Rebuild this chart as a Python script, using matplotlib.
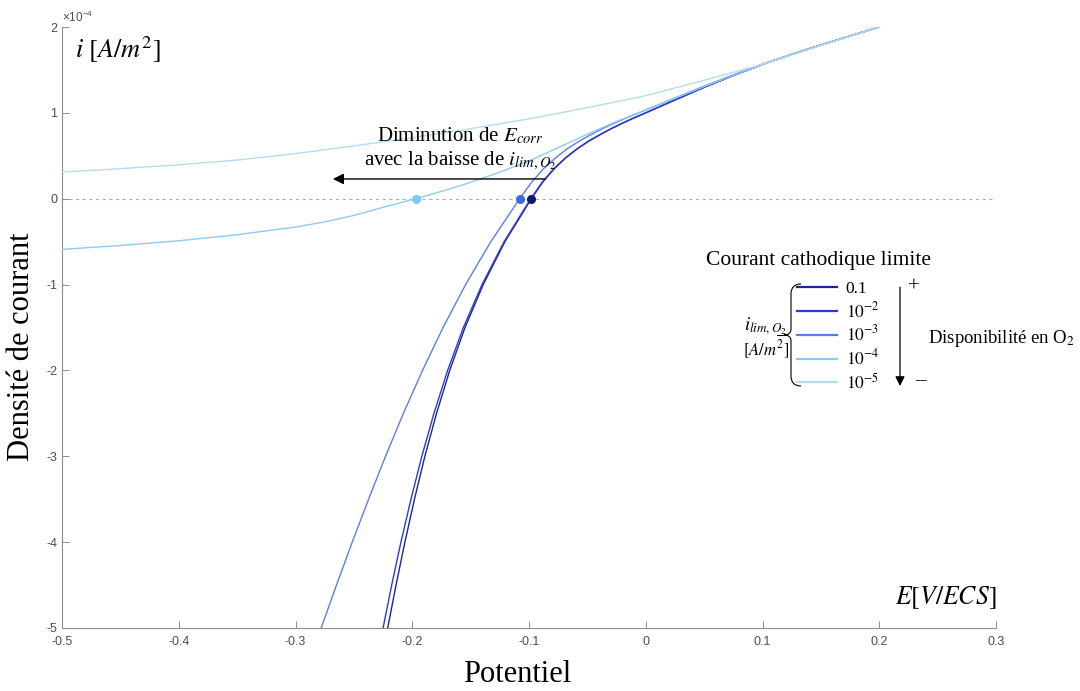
import matplotlib
matplotlib.use("Agg")
import matplotlib.pyplot as plt
from matplotlib.path import Path
from matplotlib.patches import PathPatch, FancyArrowPatch

plt.rcParams['mathtext.fontset'] = 'stix'
plt.rcParams['axes.unicode_minus'] = False

# courbes i(E), i en 1e-4 A/m2, E en V/ECS
e_01 = [-0.221, -0.2139, -0.2063, -0.1981, -0.1892, -0.1792, -0.1679, -0.1548, -0.1392, -0.1206,
        -0.098, -0.0882, -0.0784, -0.0686, -0.0588, -0.049, -0.0392, -0.0294, -0.0196, -0.0098,
        0.0, 0.025, 0.05, 0.075, 0.1, 0.125, 0.15, 0.175, 0.2]
i_01 = [-5.0, -4.5, -4.0, -3.5, -3.0, -2.5, -2.0, -1.5, -1.0, -0.5,
        0.0, 0.194, 0.349, 0.475, 0.58, 0.669, 0.746, 0.817, 0.882, 0.943,
        1.0, 1.15, 1.297, 1.435, 1.565, 1.68, 1.79, 1.895, 2.0]

e_1e2 = [-0.225, -0.2176, -0.2097, -0.2011, -0.1918, -0.1814, -0.1697, -0.1562, -0.1402, -0.1213,
         -0.0985, -0.0886, -0.0788, -0.0689, -0.059, -0.0492, -0.0393, -0.0295, -0.0196, -0.0098,
         0.0, 0.025, 0.05, 0.075, 0.1, 0.125, 0.15, 0.175, 0.2]
i_1e2 = [-5.0, -4.5, -4.0, -3.5, -3.0, -2.5, -2.0, -1.5, -1.0, -0.5,
         0.0, 0.194, 0.349, 0.475, 0.58, 0.669, 0.746, 0.817, 0.882, 0.943,
         1.0, 1.15, 1.297, 1.435, 1.565, 1.68, 1.79, 1.895, 2.0]

e_1e3 = [-0.278, -0.2649, -0.2514, -0.2374, -0.2229, -0.2076, -0.1912, -0.1736, -0.1543, -0.1327,
         -0.108, -0.0976, -0.0876, -0.0774, -0.0674, -0.0572, -0.0471, -0.0369, -0.0266, -0.0163,
         -0.006, 0.021, 0.0475, 0.0735, 0.1, 0.125, 0.15, 0.175, 0.2]
i_1e3 = [-5.0, -4.5, -4.0, -3.5, -3.0, -2.5, -2.0, -1.5, -1.0, -0.5,
         0.0, 0.194, 0.349, 0.475, 0.58, 0.669, 0.746, 0.817, 0.882, 0.943,
         1.0, 1.15, 1.297, 1.435, 1.565, 1.68, 1.79, 1.895, 2.0]

e_1e4 = [-0.5, -0.45, -0.4, -0.35, -0.3, -0.275, -0.25, -0.225, -0.197, -0.175, -0.15, -0.125,
         -0.1, -0.075, -0.05, -0.025, 0.0, 0.025, 0.05, 0.075, 0.1, 0.125, 0.15, 0.175, 0.2]
i_1e4 = [-0.59, -0.545, -0.49, -0.42, -0.33, -0.27, -0.195, -0.10, 0.0, 0.085, 0.19, 0.31,
         0.44, 0.595, 0.752, 0.90, 1.035, 1.17, 1.305, 1.437, 1.565, 1.68, 1.79, 1.895, 2.0]

e_1e5 = [-0.5, -0.45, -0.4, -0.35, -0.3, -0.25, -0.2, -0.15, -0.1, -0.05, 0.0,
         0.05, 0.1, 0.125, 0.15, 0.175, 0.2]
i_1e5 = [0.31, 0.35, 0.395, 0.45, 0.525, 0.615, 0.71, 0.815, 0.93, 1.06, 1.20,
         1.38, 1.565, 1.675, 1.785, 1.893, 2.0]

labels = ['0.1', '$10^{-2}$', '$10^{-3}$', '$10^{-4}$', '$10^{-5}$']
colors = ['#1c2591', '#2b3ad6', '#5a7fea', '#8fcaf0', '#b5dcf0']

# potentiels de corrosion (i = 0)
e_corr = [-0.098, -0.108, -0.197]
e_corr_colors = ['#0d1a6e', '#3a6ae0', '#7fc8f5']

xticks = [-0.5, -0.4, -0.3, -0.2, -0.1, 0, 0.1, 0.2, 0.3]
xtick_labels = ['-0.5', '-0.4', '-0.3', '-0.2', '-0.1', '0', '0.1', '0.2', '0.3']
yticks = [-5, -4, -3, -2, -1, 0, 1, 2]

W, H = 1080, 691
fig = plt.figure(figsize=(W / 100, H / 100), dpi=100)
ax = fig.add_axes([62 / W, 1 - 628 / H, 934 / W, 601 / H])


def px(x, y):
    return x / W, 1 - y / H


serif = 'Liberation Serif'
sans = 'Liberation Sans'

ax.axhline(0, color='#b0b0b0', lw=0.8, ls=(0, (3, 3)), zorder=1)

curves = [(e_01, i_01), (e_1e2, i_1e2), (e_1e3, i_1e3), (e_1e4, i_1e4), (e_1e5, i_1e5)]
handles = []
for (e, i), c, lab in zip(curves, colors, labels):
    h, = ax.plot(e, i, color=c, lw=1.0, label=lab, zorder=3)
    handles.append(h)

for e, c in zip(e_corr, e_corr_colors):
    ax.plot(e, 0, 'o', color=c, ms=5.5, zorder=4)

ax.set_xlim(-0.5, 0.3)
ax.set_ylim(-5, 2)
ax.set_xticks(xticks)
ax.set_xticklabels(xtick_labels)
ax.set_yticks(yticks)
for s in ['top', 'right']:
    ax.spines[s].set_visible(False)
for s in ['left', 'bottom']:
    ax.spines[s].set_color('#8c8c8c')
    ax.spines[s].set_linewidth(0.8)
ax.tick_params(direction='in', length=5, width=0.7, color='#8c8c8c',
               labelcolor='#4d4d4d', labelsize=9)
for t in ax.get_xticklabels() + ax.get_yticklabels():
    t.set_fontfamily(sans)
ax.tick_params(axis='x', pad=6)

ax.text(0, 1.004, r'$\mathregular{\times10^{-4}}$', transform=ax.transAxes, fontsize=8.5,
        color='#4d4d4d', ha='left', va='bottom', family=sans)
ax.text(0.014, 0.962, r'$i\ [A/m^2]$', transform=ax.transAxes, fontsize=19,
        ha='left', va='center')
ax.text(0.257, -4.65, r'$E[V/ECS]$', fontsize=18.5, ha='center', va='center')

fig.text(*px(22, 347), 'Densité de courant', rotation=90, fontsize=22,
         family=serif, ha='center', va='center')
fig.text(*px(517, 675), 'Potentiel', fontsize=22, family=serif,
         ha='center', va='center')

# fleche Ecorr
ax.annotate('', xy=(-0.268, 0.23), xytext=(-0.086, 0.23),
            arrowprops=dict(arrowstyle='-|>', color='black', lw=1.0,
                            mutation_scale=16, shrinkA=0, shrinkB=0))
ax.text(-0.159, 0.73, r'Diminution de $E_{corr}$', fontsize=15, family=serif,
        ha='center', va='center')
ax.text(-0.159, 0.44, r'avec la baisse de $i_{lim,O_2}$', fontsize=15, family=serif,
        ha='center', va='center')

# legende
fig.text(*px(818, 260), 'Courant cathodique limite', fontsize=15.5, family=serif,
         ha='center', va='center')
leg = ax.legend(handles, labels, loc='upper left', bbox_to_anchor=px(797, 281),
                bbox_transform=fig.transFigure, frameon=False, handlelength=2.3,
                handletextpad=0.5, labelspacing=0.22, borderpad=0, borderaxespad=0,
                prop={'family': serif, 'size': 12.5})
for ln in leg.get_lines():
    ln.set_linewidth(1.6)

fig.text(*px(766, 326), r'$i_{lim,O_2}$', fontsize=13.5, ha='center', va='center')
fig.text(*px(766, 350), r'$[A/m^2]$', fontsize=12, ha='center', va='center')

brace = [px(801, 284), px(791, 284), px(791, 294), px(791, 329), px(791, 335), px(784, 335),
         px(791, 335), px(791, 341), px(791, 376), px(791, 386), px(801, 386)]
codes = [Path.MOVETO, Path.CURVE3, Path.CURVE3, Path.LINETO, Path.CURVE3, Path.CURVE3,
         Path.CURVE3, Path.CURVE3, Path.LINETO, Path.CURVE3, Path.CURVE3]
fig.patches.append(PathPatch(Path(brace, codes), fill=False, lw=0.8, color='black',
                             transform=fig.transFigure))
fig.add_artist(plt.Line2D([777 / W, 784 / W], [1 - 335 / H, 1 - 335 / H], lw=0.8,
                          color='black'))

fig.add_artist(FancyArrowPatch(px(900, 287), px(900, 386), arrowstyle='-|>',
                               mutation_scale=14, lw=0.9, color='black',
                               transform=fig.transFigure, shrinkA=0, shrinkB=0))
fig.text(*px(914, 287), '+', fontsize=15, family=serif, ha='center', va='center')
fig.text(*px(920, 381), '\u2013', fontsize=15, family=serif, ha='center', va='center')
fig.text(*px(1002, 339), r'Disponibilité en O$_2$', fontsize=13.5, family=serif,
         ha='center', va='center')

fig.savefig('out.png', dpi=100)
